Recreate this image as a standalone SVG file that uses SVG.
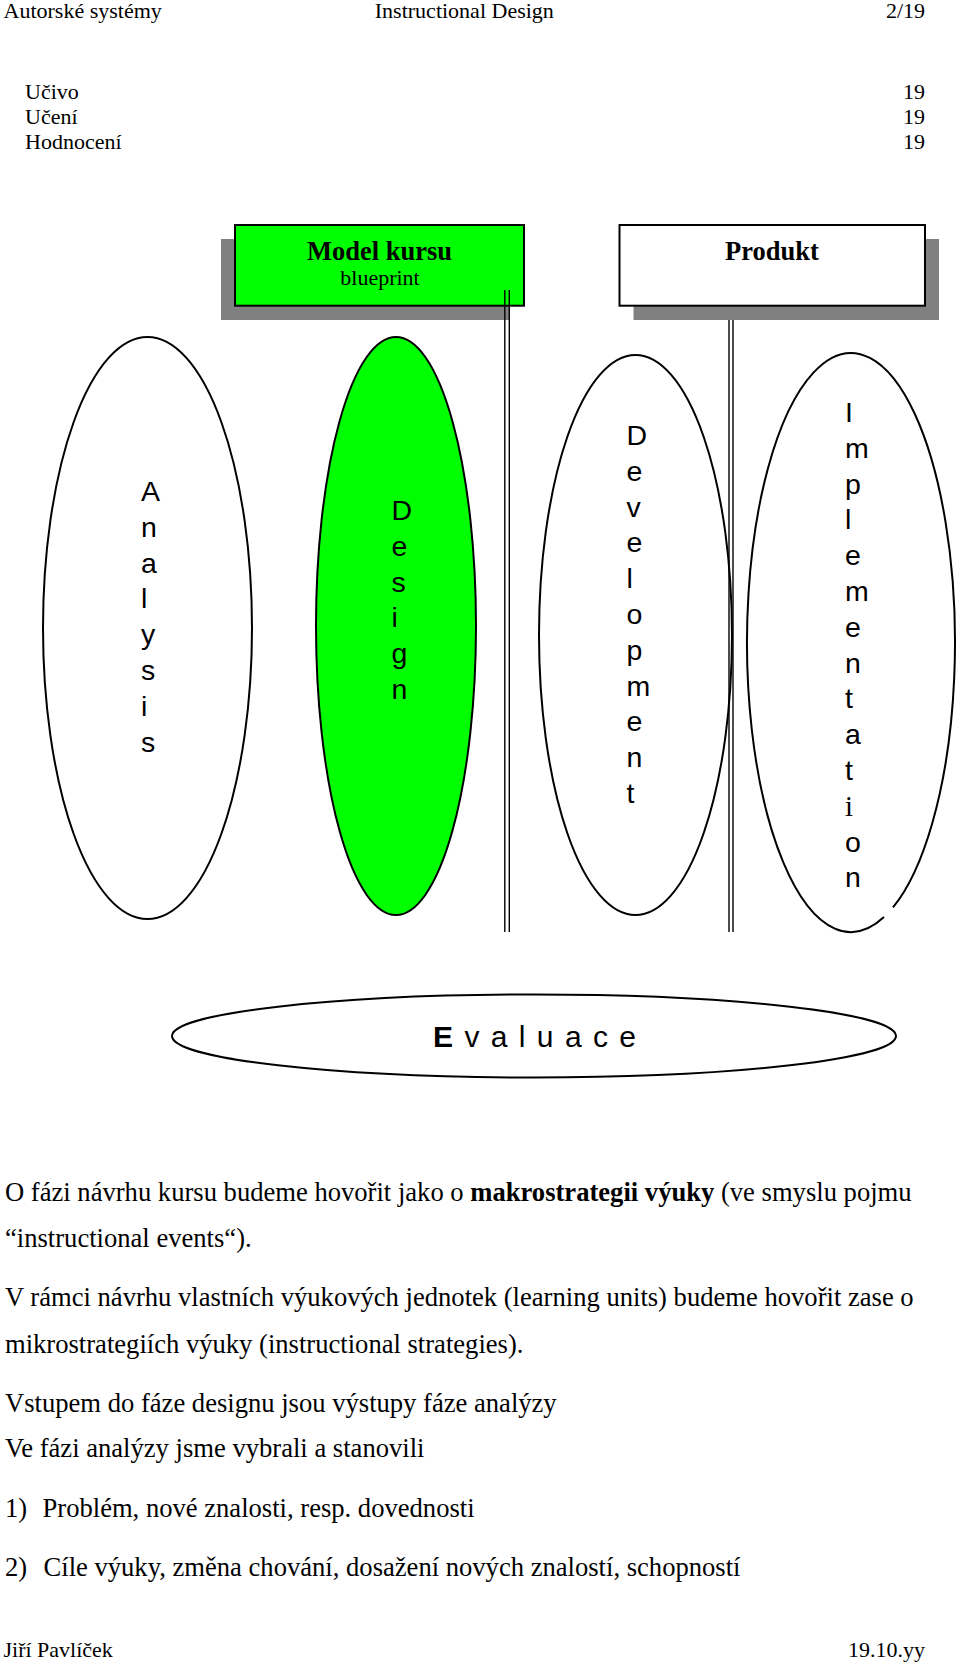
<svg xmlns="http://www.w3.org/2000/svg" width="960" height="1664" viewBox="0 0 960 1664">
<style>
.serif{font-family:"Liberation Serif","Times New Roman",serif;fill:#000}
.hdr{font-size:22px}
.body{font-size:26.6px}
.lbl{font-size:26.5px;font-weight:bold}
.sans{font-family:"Liberation Sans",Arial,sans-serif;fill:#000}
.vert{font-size:28.5px}
.ell{stroke:#000;stroke-width:2}
.shadow{fill:#808080}
.dbl{stroke:#000;stroke-width:1.4}
</style>
<rect width="960" height="1664" fill="#fff"/>

<g id="header" class="serif hdr">
<text x="3.5" y="17.5">Autorské systémy</text>
<text x="374.8" y="17.5">Instructional Design</text>
<text x="925" y="17.5" text-anchor="end">2/19</text>
</g>

<g id="toc" class="serif hdr">
<text x="25" y="99">Učivo</text>
<text x="925" y="99" text-anchor="end">19</text>
<text x="25" y="123.5">Učení</text>
<text x="925" y="123.5" text-anchor="end">19</text>
<text x="25" y="148.5">Hodnocení</text>
<text x="925" y="148.5" text-anchor="end">19</text>
</g>

<g id="model-kursu">
<rect class="shadow" x="221" y="239" width="289" height="81"/>
<rect x="235" y="225" width="289" height="80.7" fill="#00ff00" stroke="#000" stroke-width="2"/>
<text class="serif lbl" x="379.5" y="260" text-anchor="middle">Model kursu</text>
<text class="serif hdr" x="380" y="285" text-anchor="middle">blueprint</text>
</g>

<g id="produkt">
<rect class="shadow" x="633.5" y="239" width="305.5" height="81"/>
<rect x="619.5" y="225" width="305.5" height="80.7" fill="#fff" stroke="#000" stroke-width="2"/>
<text class="serif lbl" x="772" y="260" text-anchor="middle">Produkt</text>
</g>

<g id="analysis">
<ellipse class="ell" cx="147.5" cy="628" rx="104.5" ry="291" fill="#fff"/>
<text class="sans vert" x="141" y="501">A<tspan x="141" dy="35.8">n</tspan><tspan x="141" dy="35.8">a</tspan><tspan x="141" dy="35.8">l</tspan><tspan x="141" dy="35.8">y</tspan><tspan x="141" dy="35.8">s</tspan><tspan x="141" dy="35.8">i</tspan><tspan x="141" dy="35.8">s</tspan></text>
</g>

<g id="design">
<ellipse class="ell" cx="396" cy="626" rx="80" ry="289" fill="#00ff00"/>
<text class="sans vert" x="391.5" y="520">D<tspan x="391.5" dy="35.8">e</tspan><tspan x="391.5" dy="35.8">s</tspan><tspan x="391.5" dy="35.8">i</tspan><tspan x="391.5" dy="35.8">g</tspan><tspan x="391.5" dy="35.8">n</tspan></text>
</g>

<g id="development">
<ellipse class="ell" cx="635.5" cy="635" rx="96.5" ry="280" fill="#fff"/>
<text class="sans vert" x="626.5" y="445">D<tspan x="626.5" dy="35.8">e</tspan><tspan x="626.5" dy="35.8">v</tspan><tspan x="626.5" dy="35.8">e</tspan><tspan x="626.5" dy="35.8">l</tspan><tspan x="626.5" dy="35.8">o</tspan><tspan x="626.5" dy="35.8">p</tspan><tspan x="626.5" dy="35.8">m</tspan><tspan x="626.5" dy="35.8">e</tspan><tspan x="626.5" dy="35.8">n</tspan><tspan x="626.5" dy="35.8">t</tspan></text>
</g>

<g id="connectors">
<line class="dbl" x1="504.8" y1="290" x2="504.8" y2="932"/>
<line class="dbl" x1="509.3" y1="290" x2="509.3" y2="932"/>
<line class="dbl" x1="729" y1="320" x2="729" y2="932"/>
<line class="dbl" x1="733" y1="320" x2="733" y2="932"/>
</g>

<g id="implementation">
<path class="ell" d="M 893 907.4 A 104 289.5 0 1 0 884 917.1" fill="#fff"/>
<text class="sans vert" x="845" y="422">I<tspan x="845" dy="35.8">m</tspan><tspan x="845" dy="35.8">p</tspan><tspan x="845" dy="35.8">l</tspan><tspan x="845" dy="35.8">e</tspan><tspan x="845" dy="35.8">m</tspan><tspan x="845" dy="35.8">e</tspan><tspan x="845" dy="35.8">n</tspan><tspan x="845" dy="35.8">t</tspan><tspan x="845" dy="35.8">a</tspan><tspan x="845" dy="35.8">t</tspan><tspan x="845" dy="35.8" font-family="Liberation Serif, Times New Roman, serif">i</tspan><tspan x="845" dy="35.8">o</tspan><tspan x="845" dy="35.8">n</tspan></text>
</g>

<g id="evaluace">
<ellipse class="ell" cx="534" cy="1036" rx="362" ry="41.5" fill="#fff"/>
<text class="sans" x="433" y="1047" font-size="30" textLength="203" lengthAdjust="spacing"><tspan font-weight="bold">E</tspan> v a l u a c e</text>
</g>

<g id="text" class="serif body">
<text x="5" y="1201">O fázi návrhu kursu budeme hovořit jako o <tspan font-weight="bold">makrostrategii výuky</tspan> (ve smyslu pojmu</text>
<text x="5" y="1246.5">“instructional events“).</text>
<text x="5" y="1306">V rámci návrhu vlastních výukových jednotek (learning units) budeme hovořit zase o</text>
<text x="5" y="1352.5">mikrostrategiích výuky (instructional strategies).</text>
<text x="5" y="1412">Vstupem do fáze designu jsou výstupy fáze analýzy</text>
<text x="5" y="1456.5">Ve fázi analýzy jsme vybrali a stanovili</text>
<text x="5" y="1517">1)</text>
<text x="42.5" y="1517">Problém, nové znalosti, resp. dovednosti</text>
<text x="5" y="1575.5">2)</text>
<text x="43.5" y="1575.5">Cíle výuky, změna chování, dosažení nových znalostí, schopností</text>
</g>

<g id="footer" class="serif hdr">
<text x="3.5" y="1657">Jiří Pavlíček</text>
<text x="925" y="1657" text-anchor="end">19.10.yy</text>
</g>
</svg>
